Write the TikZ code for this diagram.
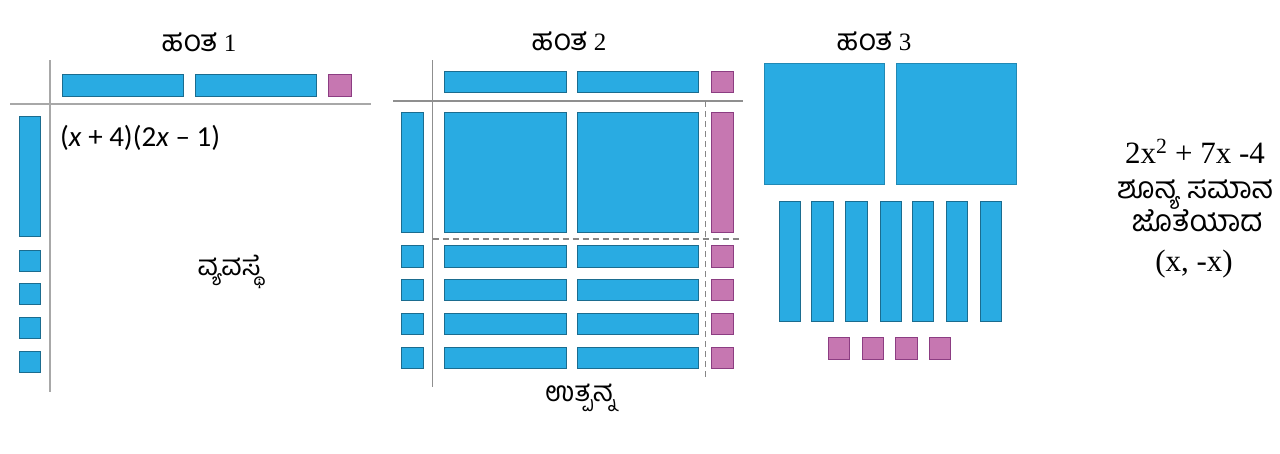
\documentclass[tikz,border=0pt]{standalone}
\usepackage{fontspec}
\setmainfont{Liberation Serif}
\newfontfamily\knfont[Script=Kannada]{Hind Mysuru}
\newfontfamily\calfont{Carlito}
\definecolor{tileblue}{HTML}{29ABE2}
\definecolor{tileblueedge}{HTML}{1B6C8F}
\definecolor{tilepink}{HTML}{C677B1}
\definecolor{tilepinkedge}{HTML}{8C3D82}
\definecolor{axisgray}{HTML}{A8A8A8}
\begin{document}
\begin{tikzpicture}[x=1pt,y=-1pt,
  bt/.style={fill=tileblue,draw=tileblueedge,line width=0.9pt},
  pt/.style={fill=tilepink,draw=tilepinkedge,line width=0.9pt},
  bigt/.style={fill=tileblue,draw=tileblue!80!black,line width=0.6pt},
  axisA/.style={draw=axisgray,line width=2pt},
  axisB/.style={draw=axisgray!85!black,line width=1.5pt},
  axisD/.style={draw=axisgray!80!black,line width=1.3pt,dash pattern=on 6pt off 4pt},
  title/.style={inner sep=0pt,font=\fontsize{25}{28}\selectfont},
  knlabel/.style={inner sep=0pt,font=\knfont\fontsize{28}{32}\selectfont},
  restext/.style={inner sep=0pt,anchor=base,text height=20pt,text depth=5pt,font=\fontsize{31}{35}\selectfont},
  knres/.style={inner sep=0pt,anchor=base,text height=20pt,text depth=5pt,font=\knfont\fontsize{30}{35}\selectfont}]
\useasboundingbox (0,0) rectangle (1280,453);
% ---------- Step 1 ----------
\node[title] (t1) at (199,42) {{\knfont\fontsize{30}{32}\selectfont ಹಂತ} 1};
\draw[axisA] (50,60) coordinate (v1a) -- (50,392) coordinate (v1b);
\draw[axisA] (10,104.3) coordinate (h1a) -- (371,104.3) coordinate (h1b);
\path[bt] (62,74.3) rectangle (183,96.3);
\path[bt] (195,74.3) rectangle (316,96.3);
\path[pt] (328,74.3) rectangle (351,96.3);
\path[bt] (19,116) rectangle (40,236.7);
\foreach \y in {250,283.3,317.7,351.7}
  \path[bt] (19,\y) rectangle (40,\y+21);
\node[anchor=west,inner sep=0pt,font=\calfont\fontsize{29}{32}\selectfont] (expr) at (60,138)
  {(\textit{x} + 4)(2\textit{x} – 1)};
\node[knlabel] (arr) at (229,272) {ವ್ಯವಸ್ಥೆ};
% ---------- Step 2 ----------
\node[title] (t2) at (569,41) {{\knfont\fontsize{30}{32}\selectfont ಹಂತ} 2};
\draw[axisB] (432.7,60) -- (432.7,386.7);
\draw[axisB] (393,101) -- (743,101);
\draw[axisD] (705.3,101) -- (705.3,376.7);
\draw[axisD] (432.7,239) -- (740,239);
\path[bt] (444.3,71.7) rectangle (566,92.7);
\path[bt] (577.7,71.7) rectangle (698.7,92.7);
\path[pt] (711.7,71.7) rectangle (733.3,92.7);
\path[bt] (401,112.3) rectangle (423.7,232.3);
\path[bt] (444.3,112.3) rectangle (566,232.3);
\path[bt] (577.7,112.3) rectangle (698.7,232.3);
\path[pt] (711.7,112.3) rectangle (733.3,232.3);
\foreach \y in {245.7,279.3,313.3,347.3}{
  \path[bt] (401,\y) rectangle (423.7,\y+21.3);
  \path[bt] (444.3,\y) rectangle (566,\y+21.3);
  \path[bt] (577.7,\y) rectangle (698.7,\y+21.3);
  \path[pt] (711.7,\y) rectangle (733.3,\y+21.3);
}
\node[knlabel] (prod) at (580,398) {ಉತ್ಪನ್ನ};
% ---------- Step 3 ----------
\node[title] (t3) at (874,41) {{\knfont\fontsize{30}{32}\selectfont ಹಂತ} 3};
\path[bigt] (764,63.3) rectangle (884,184);
\path[bigt] (896,63.3) rectangle (1016,184);
\foreach \x in {779,811.7,845.7,880,912.3,946,980}
  \path[bt] (\x,201) rectangle (\x+21.5,321.7);
\foreach \x in {828.3,862.3,895.7,929.3}
  \path[pt] (\x,337.7) rectangle (\x+21.5,359);
% ---------- Result ----------
\node[restext] (r1) at (1195,163) {2x\textsuperscript{2} + 7x -4};
\node[knres] (r2) at (1195,198) {ಶೂನ್ಯ ಸಮಾನ};
\node[knres] (r3) at (1197,231) {ಜೊತೆಯಾದ};
\node[restext] (r4) at (1194,271) {(x, -x)};
\end{tikzpicture}
\end{document}
